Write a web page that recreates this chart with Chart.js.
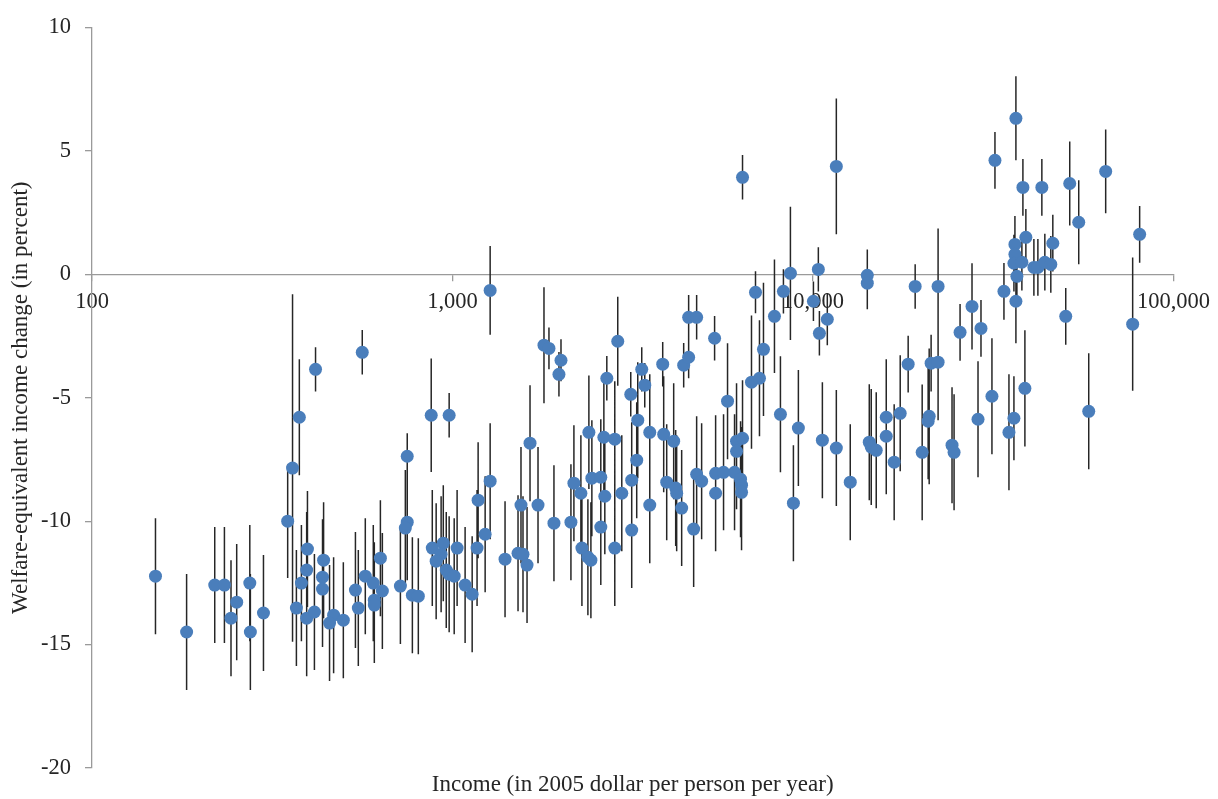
<!DOCTYPE html>
<html><head><meta charset="utf-8">
<script src="https://cdn.jsdelivr.net/npm/chart.js@4.4.1/dist/chart.umd.min.js"></script>
<style>html,body{margin:0;padding:0;background:#fff;}#c{display:block;}</style>
</head><body>
<canvas id="c" width="1218" height="799"></canvas>
<script>
// Income (2005 $ per person per year)
const income = [150,183,219,233,243,252,274,275,299,349,
360,369,376,381,394,396,394,414,417,439,
436,436,468,456,498,538,548,562,573,603,
607,607,631,639,717,749,740,749,774,804,
873,879,943,930,901,961,979,1011,979,1030,
1084,1134,1170,1178,1232,1272,1272,1399,1520,1569,
1610,1549,1641,1727,1794,1852,1912,2000,1974,2131,
2172,2271,2286,2375,2421,2390,2436,2579,2646,2579,
2630,2680,2820,2820,2874,2949,3142,3142,3123,3266,
3244,3350,3415,3526,3526,3830,3854,3929,4108,4161,
4187,4323,4379,4520,4757,4520,4667,4757,4911,5335,
5370,5649,5370,5795,6060,6297,6337,6337,6138,6377,
6138,6377,6753,7106,6928,7290,7820,8124,8281,8659,
8826,9111,10030,10350,10620,10960,10420,11610,11610,12690,
14150,14150,14330,14510,14980,15970,15970,16800,17460,18370,
19210,20090,21010,20870,21270,22240,22240,24310,24630,25590,
27620,28700,29250,31370,31980,33870,34970,36100,36560,36330,
36330,36100,37980,36790,36560,38230,38720,38960,41010,42070,
43150,43980,45690,46280,50260,51560,54610,58210,64870,77070,
80590];
// Welfare-equivalent income change (%)
const change = [-12.23,-14.49,-12.59,-12.59,-13.93,-13.28,-12.51,-14.49,-13.72,-10.00,
-7.85,-13.52,-5.79,-12.51,-11.98,-11.13,-13.93,-13.68,-3.85,-11.58,
-12.27,-12.75,-13.81,-14.13,-14.01,-12.79,-13.52,-3.16,-12.23,-12.51,
-13.20,-13.40,-11.50,-12.83,-12.63,-10.04,-10.28,-7.37,-13.00,-13.04,
-5.71,-11.09,-10.89,-11.34,-11.62,-11.98,-12.15,-12.23,-5.71,-11.09,
-12.59,-12.96,-11.09,-9.15,-10.53,-8.38,-0.65,-11.54,-11.30,-11.34,
-11.78,-9.35,-6.84,-9.35,-2.87,-3.00,-10.08,-3.48,-4.05,-10.04,
-8.46,-8.87,-11.09,-11.46,-11.58,-6.40,-8.26,-8.22,-8.99,-10.24,
-6.60,-4.21,-11.09,-6.68,-2.71,-8.87,-8.34,-10.36,-4.86,-5.91,
-7.53,-3.85,-4.49,-6.40,-9.35,-3.64,-6.48,-8.42,-6.76,-8.66,
-8.87,-9.47,-3.68,-1.74,-1.74,-3.36,-10.32,-8.10,-8.38,-2.59,
-8.06,-8.02,-8.87,-5.14,-8.02,-8.30,-8.54,-8.83,-6.76,-6.64,
-7.17,3.93,-4.37,-4.21,-0.73,-3.04,-1.70,-5.67,-0.69,0.04,
-9.27,-6.23,-1.09,0.20,-6.72,-1.82,-2.39,4.37,-7.04,-8.42,
-0.04,-0.36,-6.80,-7.00,-7.13,-5.79,-6.56,-7.61,-5.63,-3.64,
-0.49,-7.21,-5.75,-5.95,-3.60,-3.56,-0.49,-6.92,-7.21,-2.35,
-1.30,-5.87,-2.19,-4.94,4.62,-0.69,-6.40,-5.83,6.32,1.21,
0.81,0.45,0.49,-0.08,-1.09,3.52,-4.62,1.50,0.28,0.28,
3.52,0.49,0.40,1.26,-1.70,3.68,2.11,-5.55,4.17,-2.02,
1.62];
// Half-length of the uncertainty range (percentage points)
const errHalf = [2.35,2.35,2.35,2.35,2.35,2.35,2.35,2.35,2.35,2.3,
7.04,2.35,2.35,2.35,2.35,2.35,2.35,2.35,0.9,2.35,
2.35,2.35,2.35,2.35,2.35,2.35,2.35,0.9,2.35,2.35,
2.35,2.35,2.35,2.35,2.35,2.35,2.35,0.93,2.35,2.35,
2.3,2.35,2.35,2.35,2.35,2.35,2.35,2.35,0.9,2.35,
2.35,2.35,2.35,2.35,2.35,2.35,1.8,2.35,2.35,2.35,
2.35,2.35,2.35,2.35,2.35,0.85,2.35,0.85,0.9,2.35,
2.35,2.35,2.35,2.35,2.35,2.3,2.35,2.35,2.35,2.35,
2.3,0.9,2.35,2.35,1.8,2.35,2.35,2.35,0.9,2.35,
2.35,0.9,0.9,2.35,2.35,0.9,2.35,2.35,2.35,2.35,
2.35,2.35,0.9,0.9,0.9,0.85,2.35,2.35,2.35,0.9,
2.35,2.35,2.35,2.35,2.35,2.35,2.35,2.35,2.35,2.35,
2.35,0.9,2.7,2.35,0.85,2.7,2.3,2.35,0.9,2.7,
2.35,2.35,0.8,0.9,2.35,1.05,0.9,2.75,2.35,2.35,
1.05,1.05,2.35,2.35,2.35,2.35,2.35,2.35,2.35,1.15,
0.9,2.75,2.75,2.35,1.15,2.35,2.35,2.35,2.35,1.15,
1.75,2.35,1.15,2.35,1.15,1.15,2.35,1.7,1.7,1.15,
1.15,1.15,1.15,1.15,1.7,1.15,2.35,1.15,1.15,1.15,
1.15,1.15,1.15,1.15,1.15,1.7,1.7,2.35,1.7,2.7,
1.15];

const xTickValues = [100, 1000, 10000, 100000];
const xTickLabels = ['100', '1,000', '10,000', '100,000'];
const yTickValues = [-20, -15, -10, -5, 0, 5, 10];
const yTickLabels = ['-20', '-15', '-10', '-5', '0', '5', '10'];
const xTitle = 'Income (in 2005 dollar per person per year)';
const yTitle = 'Welfare-equivalent income change (in percent)';

const pointData = income.map((x, i) => ({x: x, y: change[i]}));
const barData = [];
income.forEach((x, i) => {
  barData.push({x: x, y: change[i] + errHalf[i]});
  barData.push({x: x, y: change[i] - errHalf[i]});
  barData.push({x: x, y: null});
});

const FONT = "'Liberation Serif', 'Times New Roman', serif";
const TEXT = '#262626';
const AXIS = '#9a9a9a';

const titlePlugin = {
  id: 'titles',
  afterDraw(chart) {
    const ctx = chart.ctx, a = chart.chartArea;
    ctx.save();
    ctx.fillStyle = TEXT;
    ctx.font = '23px ' + FONT;
    ctx.textAlign = 'center';
    ctx.textBaseline = 'middle';
    ctx.fillText(xTitle, (a.left + a.right) / 2, 785);
    ctx.translate(21, (a.top + a.bottom) / 2);
    ctx.rotate(-Math.PI / 2);
    ctx.fillText(yTitle, 0, 0);
    ctx.restore();
  }
};

new Chart(document.getElementById('c'), {
  type: 'scatter',
  data: {
    datasets: [
      {
        label: 'countries',
        data: pointData,
        backgroundColor: '#4a7ebb',
        borderColor: '#4a7ebb',
        borderWidth: 0,
        pointRadius: 6.5,
        pointHoverRadius: 6.5
      },
      {
        label: 'range',
        data: barData,
        showLine: true,
        spanGaps: false,
        borderColor: '#262626',
        borderWidth: 1.5,
        pointRadius: 0,
        pointHoverRadius: 0,
        tension: 0,
        borderCapStyle: 'butt'
      }
    ]
  },
  options: {
    responsive: false,
    animation: false,
    devicePixelRatio: 1,
    layout: {padding: {left: 0, top: 27, right: 42, bottom: 31}},
    plugins: {legend: {display: false}, tooltip: {enabled: false}},
    scales: {
      x: {
        type: 'logarithmic',
        min: 100, max: 100000,
        position: {y: 0},
        afterBuildTicks(scale) { scale.ticks = xTickValues.map(v => ({value: v})); },
        ticks: {
          autoSkip: false, maxRotation: 0, padding: 8,
          color: TEXT, font: {family: FONT, size: 22.5},
          callback: (v) => xTickLabels[xTickValues.indexOf(v)]
        },
        grid: {display: true, drawOnChartArea: false, drawTicks: true, tickLength: 6, color: AXIS, lineWidth: 1.3},
        border: {display: true, color: AXIS, width: 1.3}
      },
      y: {
        type: 'linear',
        min: -20, max: 10,
        afterBuildTicks(scale) { scale.ticks = yTickValues.map(v => ({value: v})); },
        afterFit(scale) { scale.width = 92; },
        ticks: {
          padding: 14, color: TEXT, font: {family: FONT, size: 22.5},
          callback: (v) => yTickLabels[yTickValues.indexOf(v)]
        },
        grid: {display: true, drawOnChartArea: false, drawTicks: true, tickLength: 7, color: AXIS, lineWidth: 1.3},
        border: {display: true, color: AXIS, width: 1.3}
      }
    }
  },
  plugins: [titlePlugin]
});
</script>
</body></html>
